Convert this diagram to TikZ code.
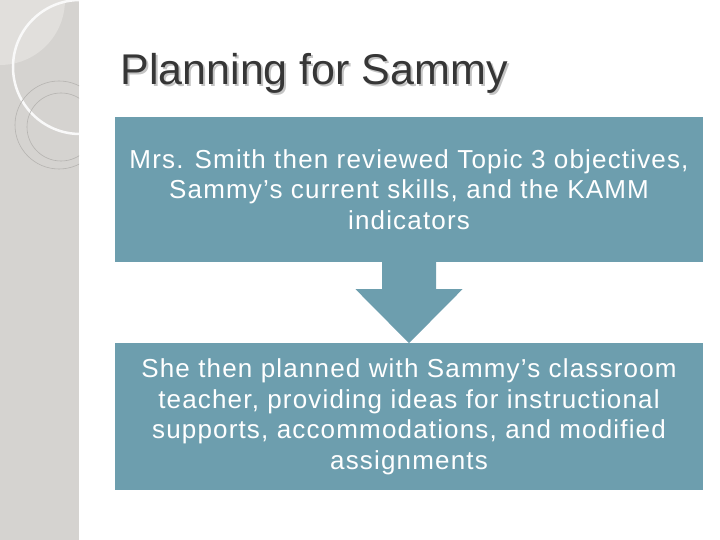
\documentclass[tikz,border=0pt]{standalone}
\usepackage{fontspec}
\setmainfont{Liberation Sans}
\usepackage{tikz}
\usetikzlibrary{positioning}
\usepackage{xcolor}
\definecolor{FlowBlue}{HTML}{6D9EAE}
\definecolor{StripGray}{HTML}{D5D3D0}
\definecolor{StripLight}{HTML}{E1DFDC}
\definecolor{RingGray}{HTML}{B5B3B0}
\definecolor{TitleGray}{HTML}{363636}
\definecolor{ShadowGray}{HTML}{C4C4C4}

\tikzset{
    flowbox/.style={fill=FlowBlue, text=white, minimum width=588pt, align=center,
        font=\fontsize{26}{30.5}\selectfont\addfontfeatures{LetterSpace=4.5}, inner sep=0pt},
    titletext/.style={anchor=base west, font=\fontsize{43}{50}\selectfont}
}

\begin{document}
\begin{tikzpicture}[x=1pt, y=1pt]
    \useasboundingbox (0,0) rectangle (720,540);
    % left strip
    \begin{scope}
        \clip (0,0) rectangle (79,540);
        \fill[StripGray] (0,0) rectangle (79,540);
        \fill[StripLight] (0,540) circle (65);
        \draw[white!95!gray, line width=2.5pt] (80,473) circle (67);
        \draw[RingGray, line width=0.6pt] (59,415) circle (44);
        \draw[RingGray, line width=0.6pt] (61,413) circle (34);
    \end{scope}
    % title
    \node[titletext, ShadowGray] (titleshadow) at (119,453) {Planning for Sammy};
    \node[titletext, TitleGray] (title) at (117,455) {Planning for Sammy};
    % boxes
    \node[flowbox, minimum height=145pt] (review) at (409,350.5)
        {Mrs. Smith then reviewed Topic 3 objectives,\\ Sammy’s current skills, and the KAMM\\ indicators};
    \node[flowbox, minimum height=147pt, below=81pt of review] (plan)
        {She then planned with Sammy’s classroom\\ teacher, providing ideas for instructional\\ supports, accommodations, and modified\\ assignments};
    % arrow
    \fill[FlowBlue] ([xshift=-27pt]review.south) -- ++(0,-27) -- ++(-26.5,0) -- (plan.north)
        -- ++(53.5,54) -- ++(-26.5,0) -- ([xshift=27pt]review.south) -- cycle;
\end{tikzpicture}
\end{document}
